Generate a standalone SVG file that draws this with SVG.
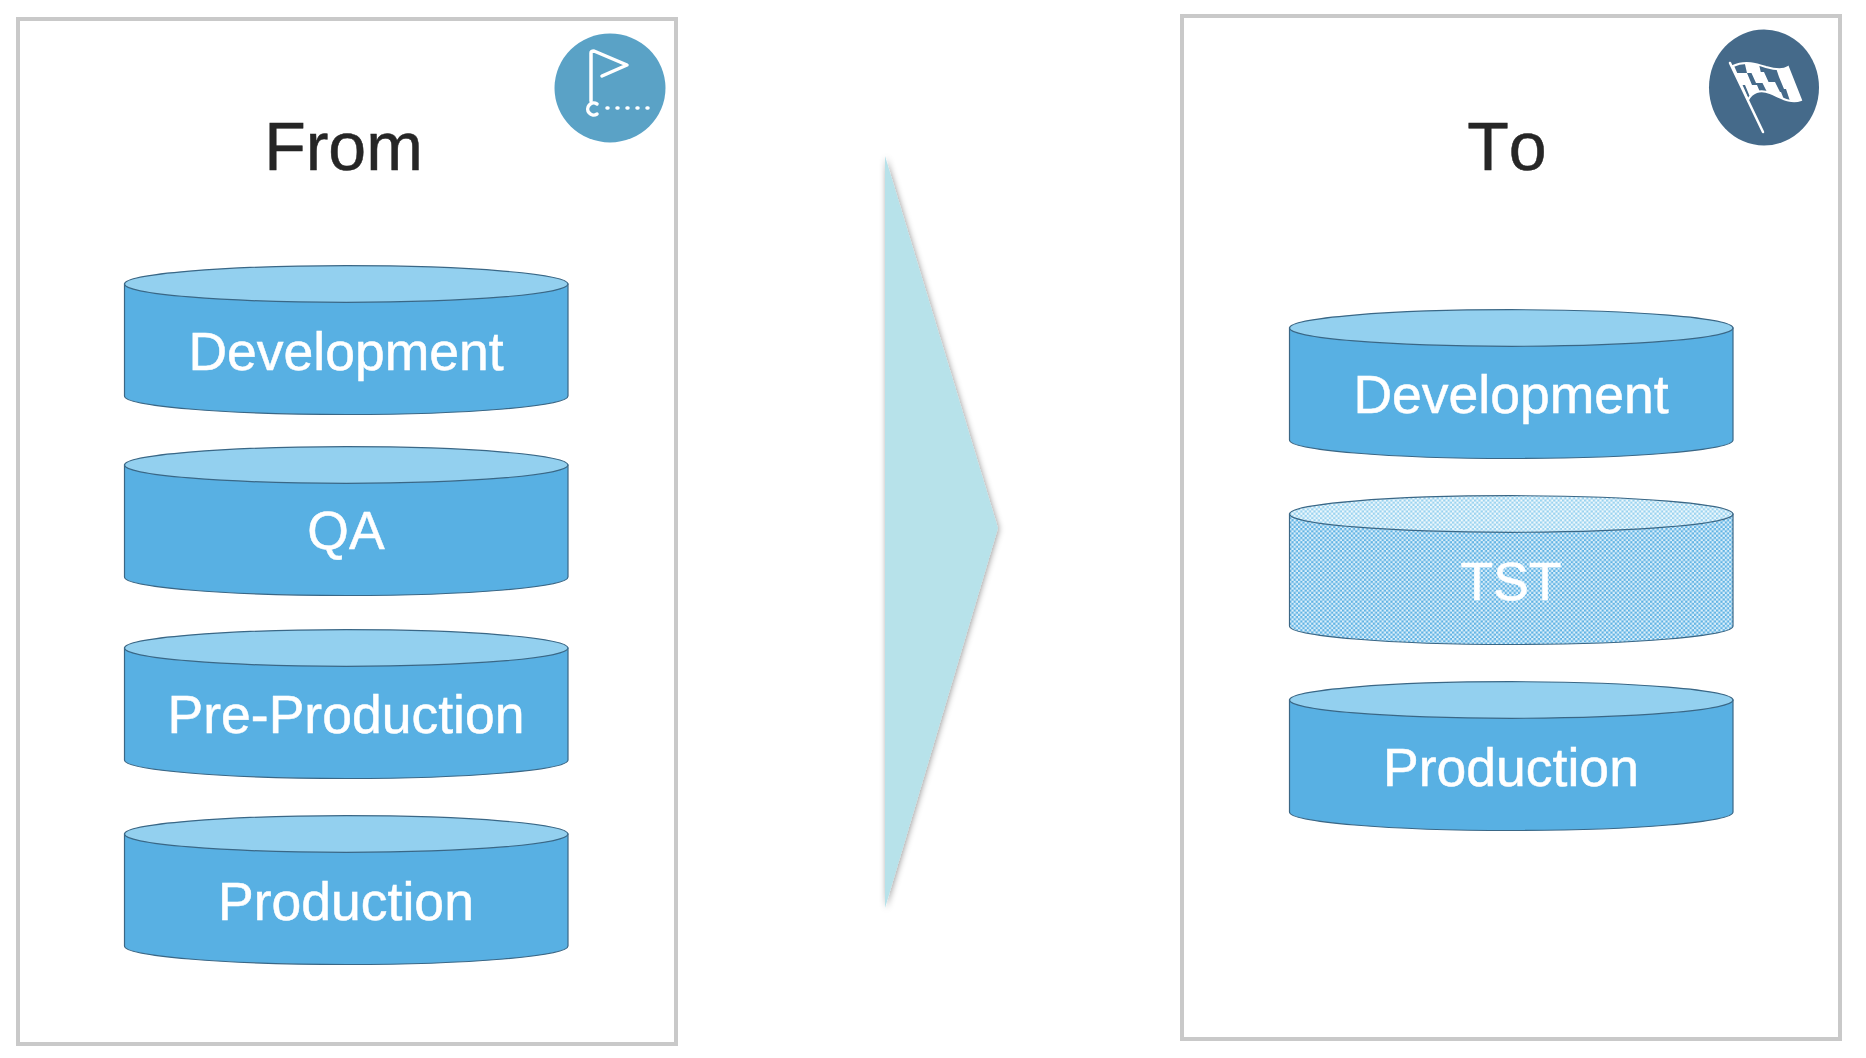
<svg xmlns="http://www.w3.org/2000/svg" width="1866" height="1058" viewBox="0 0 1866 1058">
<style>
text{font-family:"Liberation Sans",Arial,sans-serif;text-anchor:middle;font-kerning:none}
.panel{fill:#fff;stroke:#c9c9c9;stroke-width:4}
.title{font-size:68px;fill:#262626;stroke:#262626;stroke-width:.5}
.lbl{font-size:53.500px;fill:#fff;stroke:#fff;stroke-width:.5}
.body{fill:#58b0e3;stroke:#3a6786;stroke-width:1.200}
.top{fill:#93d0ef;stroke:#3a6786;stroke-width:1.200}
.hb{fill:url(#chk);stroke:#3a6786;stroke-width:1.200}
.ht{fill:url(#chkl);stroke:#3a6786;stroke-width:1.200}
.ic{fill:none;stroke:#fff;stroke-width:3.500;stroke-linecap:round;stroke-linejoin:round}
</style>
<defs>
<pattern id="chk" width="4.400" height="4.400" patternUnits="userSpaceOnUse"><rect width="4.400" height="4.400" fill="#60b3e4"/><rect width="2.200" height="2.200" fill="#dceffa"/><rect x="2.200" y="2.200" width="2.200" height="2.200" fill="#dceffa"/></pattern>
<pattern id="chkl" width="4.400" height="4.400" patternUnits="userSpaceOnUse"><rect width="4.400" height="4.400" fill="#9ad3f0"/><rect width="2.200" height="2.200" fill="#eef8fc"/><rect x="2.200" y="2.200" width="2.200" height="2.200" fill="#eef8fc"/></pattern>
<filter id="sh" x="-20%" y="-5%" width="140%" height="110%"><feDropShadow dx="1" dy="1" stdDeviation="3" flood-color="#000" flood-opacity=".4"/></filter>
<clipPath id="fc"><path d="M1733 66C1745 60 1757 64 1766 67C1776 70 1784 70 1788 67L1801 100C1790 104 1780 97 1770 93C1760 89 1752 92 1748 100Z"/></clipPath>
</defs>
<g id="from-panel">
<rect class="panel" x="18" y="19" width="658" height="1025"/>
<text class="title" x="343.500" y="170">From</text>
<g id="from-icon"><ellipse cx="610" cy="88" rx="55.500" ry="54.500" fill="#5aa2c6"/>
<path class="ic" d="M591 101V53Q591 51 594 51L627 65L602 76"/>
<path class="ic" d="M597 104A6 6 0 1 0 597 114"/>
<path class="ic" stroke-dasharray="1 9" d="M607 108H648"/></g>
</g>
<g id="to-panel">
<rect class="panel" x="1182" y="16" width="658" height="1023"/>
<text class="title" x="1507" y="170">To</text>
<g id="to-icon"><ellipse cx="1764" cy="87.500" rx="55" ry="58" fill="#456a8a"/>
<path class="ic" style="stroke-width:2.500" d="M1730 63L1763 132"/>
<g clip-path="url(#fc)" fill="#fff"><path d="M1744 60h14l3 13h-14zM1734 73h13l5 12h-14zM1751 72h13l5 11h-13zM1745 85h12l5 12h-12zM1762 82h13l5 10h-13zM1775 65h13l5 12h-14zM1779 77h15l5 12h-15zM1786 89h14l4 12h-14zM1767 92h14l4 10h-14z"/></g>
<path d="M1733 66C1745 60 1757 64 1766 67C1776 70 1784 70 1788 67L1801 100C1790 104 1780 97 1770 93C1760 89 1752 92 1748 100Z" fill="none" stroke="#fff" stroke-width="2"/></g>
</g>
<g id="arrow"><path d="M885 156L998 528L885 908Z" fill="#b7e2ea" filter="url(#sh)"/></g>
<g id="from-dev"><path class="body" d="M124.500 284V396C124.500 406 224 414.500 346.500 414.500S568 406 568 396V284Z"/><ellipse class="top" cx="346.250" cy="284" rx="221.750" ry="18.300"/><text class="lbl" x="346" y="369.500">Development</text></g>
<g id="from-qa"><path class="body" d="M124.500 465V577C124.500 587 224 595.500 346.500 595.500S568 587 568 577V465Z"/><ellipse class="top" cx="346.250" cy="465" rx="221.750" ry="18.300"/><text class="lbl" x="346" y="549">QA</text></g>
<g id="from-pre"><path class="body" d="M124.500 648V760C124.500 770 224 778.500 346.500 778.500S568 770 568 760V648Z"/><ellipse class="top" cx="346.250" cy="648" rx="221.750" ry="18.300"/><text class="lbl" x="346" y="733">Pre-Production</text></g>
<g id="from-prod"><path class="body" d="M124.500 834V946C124.500 956 224 964.500 346.500 964.500S568 956 568 946V834Z"/><ellipse class="top" cx="346.250" cy="834" rx="221.750" ry="18.300"/><text class="lbl" x="346" y="919.500">Production</text></g>
<g id="to-dev"><path class="body" d="M1289.500 328V440C1289.500 450 1389 458.500 1511.500 458.500S1733 450 1733 440V328Z"/><ellipse class="top" cx="1511.250" cy="328" rx="221.750" ry="18.300"/><text class="lbl" x="1511" y="413">Development</text></g>
<g id="to-tst"><path class="hb" d="M1289.500 514V626C1289.500 636 1389 644.500 1511.500 644.500S1733 636 1733 626V514Z"/><ellipse class="ht" cx="1511.250" cy="514" rx="221.750" ry="18.300"/><text class="lbl" x="1511" y="600">TST</text></g>
<g id="to-prod"><path class="body" d="M1289.500 700V812C1289.500 822 1389 830.500 1511.500 830.500S1733 822 1733 812V700Z"/><ellipse class="top" cx="1511.250" cy="700" rx="221.750" ry="18.300"/><text class="lbl" x="1511" y="786">Production</text></g>
<g id="connectors"/>
</svg>
